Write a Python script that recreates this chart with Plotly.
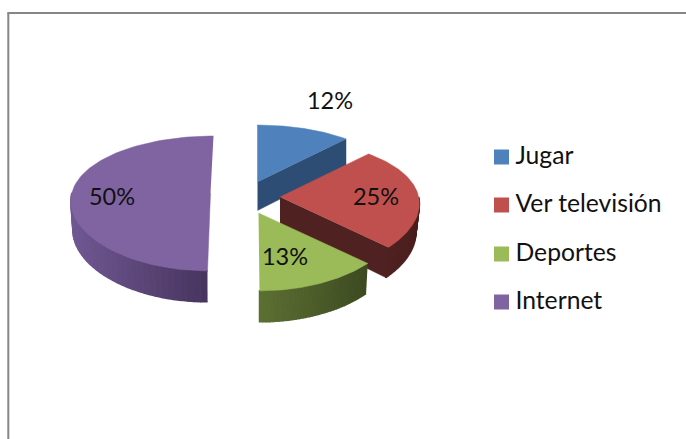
import math
import plotly.graph_objects as go

categories = ["Jugar", "Ver televisión", "Deportes", "Internet"]
values = [12, 25, 13, 50]
label_values = ["12%", "25%", "13%", "50%"]

top_colors = ["#4f81bd", "#c0504d", "#9bbb59", "#8064a2"]
# wall gradient: colour at the left end and at the right end of the rim
rim_colors = [("#2e4d75", "#2e4d75"), ("#4f2120", "#4a1f1e"), ("#5c7033", "#3d4a21"), ("#705893", "#47345e")]

# layout of each exploded slice on the page (apex x, apex y, lean of the cut, wall shrink)
apex = [(257.5, 182, 0, 1.0), (280, 197, 0, 0.975), (258.5, 213, -1, 0.985), (210.5, 193, 3, 0.985)]
wall_front, wall_back = 31, 26
R, A, PX, PY = 138.7, 65.8, 0.10, 0.155
label_xy = [(330, 103), (376, 199), (285, 259), (112, 199)]
legend_x = 501.5
legend_text_x = 515.5
legend_y = [157, 205, 254, 302]
legend_text_y = [158, 206, 255, 303]
FONT = "Lato, 'Open Sans', sans-serif"


def project(slice_i, theta, radius=1.0, low=False):
    cx, cy, lean, shrink = apex[slice_i]
    u, v = radius * math.sin(theta), radius * math.cos(theta)
    x = R * u / (1 + PX * v) + lean * v
    y = -A * v / (1 + PY * v)
    if low:
        depth = wall_back + (wall_front - wall_back) * (1 - v) / 2
        return cx + x * shrink, cy + y + depth
    return cx + x, cy + y


def hex_mix(c0, c1, t):
    a = [int(c0[i:i + 2], 16) for i in (1, 3, 5)]
    b = [int(c1[i:i + 2], 16) for i in (1, 3, 5)]
    return "rgb(%d,%d,%d)" % tuple(round(p + (q - p) * t) for p, q in zip(a, b))


def poly(xs, ys, color, width=0.5):
    return go.Scatter(x=xs, y=ys, mode="lines", fill="toself", fillcolor=color,
                      line=dict(color=color, width=width), hoverinfo="skip", showlegend=False)


fig = go.Figure()
total = sum(values)
start = 0.0
spans = []
for v in values:
    spans.append((start / total * 2 * math.pi, (start + v) / total * 2 * math.pi))
    start += v

for i, (t0, t1) in enumerate(spans):
    # flat cut wall that faces the viewer
    if i in (0, 1):
        a = project(i, t1, 0.0)
        b = project(i, t1)
        c = project(i, t1, low=True)
        d = project(i, t1, 0.0, low=True)
        fig.add_trace(poly([a[0], b[0], c[0], d[0]], [a[1], b[1], c[1], d[1]], rim_colors[i][0]))
    # curved rim, only where it faces the viewer
    r0 = max(t0, math.pi / 2)
    r1 = min(t1, 3 * math.pi / 2)
    if r1 > r0:
        steps = 36
        pts = [r0 + (r1 - r0) * k / steps for k in range(steps + 1)]
        xs_all = [project(i, t)[0] for t in pts]
        lo, hi = min(xs_all), max(xs_all)
        for k in range(steps):
            p, q = pts[k], pts[k + 1]
            p0, q0 = project(i, p), project(i, q)
            p1, q1 = project(i, p, low=True), project(i, q, low=True)
            mid = ((p0[0] + q0[0]) / 2 - lo) / (hi - lo)
            fig.add_trace(poly([p0[0], q0[0], q1[0], p1[0]], [p0[1], q0[1], q1[1], p1[1]],
                               hex_mix(rim_colors[i][0], rim_colors[i][1], mid), width=1.5))
    # top face
    steps = 90
    arc = [project(i, t0 + (t1 - t0) * k / steps) for k in range(steps + 1)]
    ap = project(i, t0, 0.0)
    fig.add_trace(poly([ap[0]] + [p[0] for p in arc], [ap[1]] + [p[1] for p in arc], top_colors[i]))

# legend entries
for name, color, ly, ty in zip(categories, top_colors, legend_y, legend_text_y):
    fig.add_trace(go.Scatter(x=[legend_x], y=[ly], mode="markers", name=name,
                             marker=dict(symbol="square", size=15, color=color),
                             hoverinfo="skip", showlegend=False))
    fig.add_trace(go.Scatter(x=[legend_text_x], y=[ty], mode="text", text=[name],
                             textposition="middle right",
                             textfont=dict(family=FONT, size=24.7, color="#111111"),
                             hoverinfo="skip", showlegend=False))

# data labels
fig.add_trace(go.Scatter(x=[p[0] for p in label_xy], y=[p[1] for p in label_xy], mode="text",
                         text=label_values, textposition="middle center",
                         textfont=dict(family=FONT, size=23.5, color="#111111"),
                         hoverinfo="skip", showlegend=False))

fig.update_layout(
    width=686, height=439, margin=dict(l=0, r=0, t=0, b=0),
    paper_bgcolor="white", plot_bgcolor="white", showlegend=False,
    xaxis=dict(range=[0, 686], visible=False, fixedrange=True),
    yaxis=dict(range=[439, 0], visible=False, fixedrange=True),
    shapes=[
        dict(type="line", xref="x", yref="y", x0=8.3, x1=8.3, y0=13, y1=439, line=dict(color="#868686", width=2)),
        dict(type="line", xref="x", yref="y", x0=7.3, x1=686, y0=13, y1=13, line=dict(color="#868686", width=2)),
    ],
)
fig.write_html("out.html", config={"displayModeBar": False},
               post_script="document.body.style.margin='0';document.body.style.overflow='hidden';")
